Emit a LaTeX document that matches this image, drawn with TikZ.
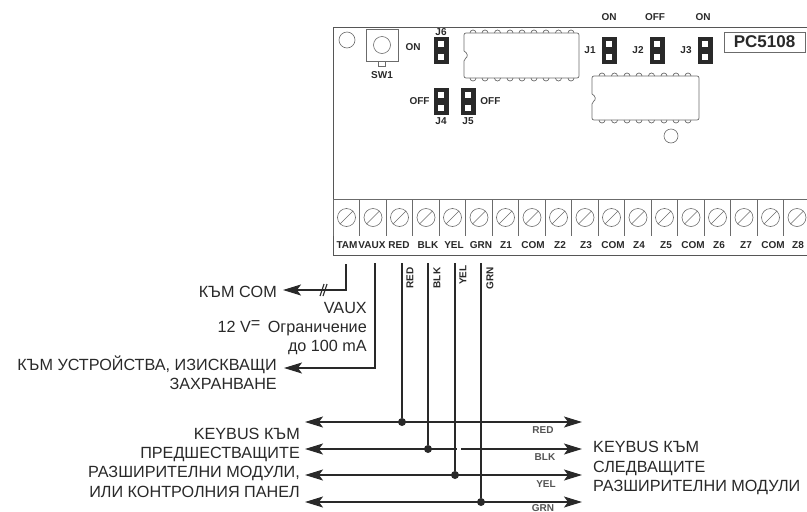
\documentclass[tikz,border=0pt]{standalone}
\usepackage{fontspec}
\setmainfont{Liberation Sans}
\usepackage{xcolor}
\usetikzlibrary{positioning,arrows.meta}
\definecolor{ink}{gray}{0.16}
\definecolor{pcb}{gray}{0.42}
\newcommand{\txtsize}{\fontsize{16.2}{19.3}\selectfont}
\newcommand{\pinrow}[2]{\foreach \x in {#1} {\draw[board] (\x-3,#2) arc (180:360:3);}}
\newcommand{\pinrowlow}[2]{\foreach \x in {#1} {\draw[board] (\x-3,#2) arc (180:0:3);}}
\tikzstyle{board} = [draw=pcb, line width=0.7pt]
\tikzstyle{edge} = [draw=pcb!80!black, line width=1pt]
\tikzstyle{screw} = [circle, draw=pcb, line width=0.6pt, minimum size=18pt, inner sep=0pt]
\tikzstyle{hole} = [circle, draw=pcb, line width=0.6pt, inner sep=0pt]
\tikzstyle{pcbtext} = [font=\bfseries\fontsize{10}{12}\selectfont, text=ink, inner sep=0pt]
\tikzstyle{wirelabel} = [font=\bfseries\fontsize{10}{12}\selectfont, text=ink, inner sep=0pt, rotate=90]
\tikzstyle{buslabel} = [font=\bfseries\fontsize{10}{12}\selectfont, text=ink!80, inner sep=0pt]
\tikzstyle{note} = [font=\txtsize, text=ink, inner sep=0pt, align=right, anchor=east]
\tikzstyle{jumper} = [draw=ink, fill=ink, minimum width=14pt, minimum height=26pt, inner sep=0pt]
\tikzstyle{jhole} = [fill=white, draw=none, minimum size=6pt, inner sep=0pt]
\tikzstyle{wire} = [draw=ink, line width=1.3pt]
\tikzstyle{wirearrow} = [wire, -{Stealth[length=18pt,width=11pt,inset=4pt]}]
\tikzstyle{bus} = [wire, {Stealth[length=18pt,width=11pt,inset=4pt]}-{Stealth[length=18pt,width=11pt,inset=4pt]}]
\tikzstyle{joint} = [circle, fill=ink, minimum size=8pt, inner sep=0pt]
\begin{document}
\begin{tikzpicture}[x=1pt,y=-1pt]
	\useasboundingbox (0,0) rectangle (807,512);
	% board outline
	\coordinate (bl) at (333,255);
	\coordinate (tl) at (333,27);
	\coordinate (tr) at (807,27);
	\coordinate (br) at (807,255);
	\draw[edge] (tr) -- (tl) -- (bl) -- (br);
	\draw[board] (333,199) -- (807,199);
	% terminals
	\foreach \k in {0,...,18} {
		\pgfmathsetmacro{\xk}{333+26.5*\k}
		\pgfmathsetmacro{\xs}{346.5+26.5*\k}
		\draw[board] (\xk,199) -- (\xk,236);
		\node[screw] (t\k) at (\xs,217.5) {};
		\draw[board, line width=0.5pt] (t\k.225) -- (t\k.45);
	}
	\foreach \x/\name [count=\i] in {347/TAM,372/VAUX,399/RED,428/BLK,454/YEL,481/GRN,506/Z1,533/COM,560/Z2,586/Z3,613/COM,639/Z4,666/Z5,693/COM,719/Z6,746/Z7,773/COM,798/Z8} {
		\node[pcbtext] (lab\i) at (\x,245) {\name};
	}
	% switch and hole
	\node[hole, minimum size=16pt] (mount) at (347,40) {};
	\node[board, minimum width=32pt, minimum height=32pt, inner sep=0pt] (sw) at (382,45) {};
	\node[hole, minimum size=17pt] (swknob) at (382,45) {};
	\draw[board] (378,61) -- (378,66) -- (385,66) -- (385,61);
	\node[pcbtext] (swlab) at (382,75) {SW1};
	\node[pcbtext] (swon) at (413,47) {ON};
	% chips
	\draw[board, rounded corners=2pt] (464,51) -- (464,33) -- (579,33) -- (579,78) -- (464,78) -- (464,59) .. controls (468,57) and (468,53) .. (464,51);
	\pinrow{473,485,497.5,510,522,534,546,558.5,571}{33}
	\pinrowlow{473,485,497.5,510,522,534,546,558.5,571}{78}
	\draw[board, rounded corners=2pt] (592,94) -- (592,76) -- (699,76) -- (699,120) -- (592,120) -- (592,102) .. controls (596,100) and (596,96) .. (592,94);
	\pinrow{602,614.5,627,639,651.5,664,676,688}{76}
	\pinrowlow{602,614.5,627,639,651.5,664,676,688}{120}
	% jumpers
	\foreach \name/\x/\y in {jsix/441/50,jfour/441/101,jfive/468/101,jone/609/50,jtwo/657/50,jthree/705/50} {
		\node[jumper] (\name) at (\x,\y) {};
		\node[jhole] at (\x,\y-6.5) {};
		\node[jhole] at (\x,\y+6.5) {};
	}
	\node[pcbtext] (jsixlab) [above = 1pt of jsix] {J6};
	\node[pcbtext] (jfourlab) [below = 3pt of jfour] {J4};
	\node[pcbtext] (jfivelab) [below = 3pt of jfive] {J5};
	\node[pcbtext] (offl) [left = 4pt of jfour] {OFF};
	\node[pcbtext] (offr) [right = 5pt of jfive] {OFF};
	\node[pcbtext] (jonelab) [left = 6pt of jone] {J1};
	\node[pcbtext] (jtwolab) [left = 6pt of jtwo] {J2};
	\node[pcbtext] (jthreelab) [left = 6pt of jthree] {J3};
	\node[pcbtext] (onone) at (609,17) {ON};
	\node[pcbtext] (offtwo) at (655,17) {OFF};
	\node[pcbtext] (onthree) at (703,17) {ON};
	\node[board, minimum width=81pt, minimum height=20pt, inner sep=0pt, font=\bfseries\fontsize{17}{19}\selectfont, text=ink] (model) at (764.5,42) {PC5108};
	\node[hole, minimum size=14pt] (led) at (671,136) {};
	% wires going out
	\coordinate (tamtop) at (346,264);
	\coordinate (tamturn) at (346,290);
	\coordinate (tamend) at (283,290);
	\coordinate (vauxtop) at (375,263);
	\coordinate (vauxturn) at (375,368);
	\coordinate (vauxend) at (284,368);
	\draw[wirearrow] (tamtop) -- (tamturn) -- (tamend);
	\draw[wire, line width=1.1pt] (320,296) -- (324,284);
	\draw[wire, line width=1.1pt] (323,296) -- (327,284);
	\draw[wirearrow] (vauxtop) -- (vauxturn) -- (vauxend);
	\node[note] (tocom) at (277,292) {КЪМ COM};
	\node[note] (vauxnote) at (367,328.5) {VAUX\\12 V\raisebox{4pt}{=}\hspace{3pt} Ограничение\\до 100 mA};
	\node[note] (todev) at (277,372.5) {КЪМ УСТРОЙСТВА, ИЗИСКВАЩИ\\ЗАХРАНВАНЕ};
	% keybus
	\foreach \name/\x/\y in {red/402/422,blk/428/449,yel/455/475,grn/481/502} {
		\coordinate (\name top) at (\x,263);
		\coordinate (\name left) at (305,\y);
		\coordinate (\name right) at (582,\y);
		\node[joint] (\name dot) at (\x,\y) {};
		\draw[bus] (\name left) -- (\name right);
		\draw[wire] (\name top) -- (\name dot);
	}
	\draw[draw=white, line width=2pt] (457,449) -- (461,449);
	\node[wirelabel] (redwire) at (410,278) {RED};
	\node[wirelabel] (blkwire) at (437,278) {BLK};
	\node[wirelabel] (yelwire) at (463,275) {YEL};
	\node[wirelabel] (grnwire) at (490,278) {GRN};
	\node[buslabel] (redbus) at (543,430) {RED};
	\node[buslabel] (blkbus) at (545,457) {BLK};
	\node[buslabel] (yelbus) at (546,484) {YEL};
	\node[buslabel] (grnbus) at (543,508) {GRN};
	\node[note] (prevmods) at (300,462.5) {KEYBUS КЪМ\\ПРЕДШЕСТВАЩИТЕ\\РАЗШИРИТЕЛНИ МОДУЛИ,\\ИЛИ КОНТРОЛНИЯ ПАНЕЛ};
	\node[note, align=left, anchor=west] (nextmods) at (593,468) {KEYBUS КЪМ\\СЛЕДВАЩИТЕ\\РАЗШИРИТЕЛНИ МОДУЛИ};
\end{tikzpicture}
\end{document}
